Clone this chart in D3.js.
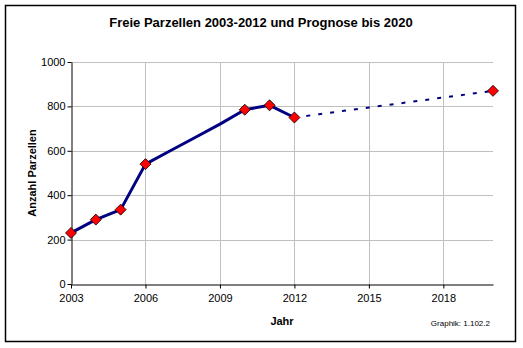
<!DOCTYPE html>
<html>
<head>
<meta charset="utf-8">
<script src="https://cdn.jsdelivr.net/npm/d3@7"></script>
<style>
  html, body { margin: 0; padding: 0; background: #fff; }
  svg { display: block; font-family: "Liberation Sans", Arial, sans-serif; }
</style>
</head>
<body>
<svg id="chart" width="523" height="348"></svg>
<script>
// Observed free plots per year
const years = [2003, 2004, 2005, 2006, 2007, 2008, 2009, 2010, 2011, 2012];
const freePlots = [230, 290, 335, 540, 600, 660, 720, 785, 805, 750];
// Years that carry a marker
const markedYears = [2003, 2004, 2005, 2006, 2010, 2011, 2012, 2020];
// Forecast 2012 to 2020
const forecastYears = [2012, 2013, 2014, 2015, 2016, 2017, 2018, 2019, 2020];
const forecastPlots = [750, 765, 780, 795, 810, 825, 840, 855, 870];
const xTicks = [2003, 2006, 2009, 2012, 2015, 2018];
const yTicks = [0, 200, 400, 600, 800, 1000];

(function () {
  const svg = d3.select("#chart");
  const pLeft = 71, pRight = 493, pTop = 62, pBottom = 284;

  const x = d3.scaleLinear().domain([2003, 2020]).range([pLeft, pRight]);
  const y = d3.scaleLinear().domain([0, 1000]).range([pBottom, pTop]);

  // Outer frame
  svg.append("rect").attr("x", 5.5).attr("y", 5.5).attr("width", 510).attr("height", 336)
    .attr("fill", "#fff").attr("stroke", "#000").attr("stroke-width", 1.5);

  // Title
  svg.append("text").attr("x", 261).attr("y", 27).attr("text-anchor", "middle")
    .attr("font-size", 13).attr("font-weight", "bold").text("Freie Parzellen 2003-2012 und Prognose bis 2020");

  // Grid
  const g = svg.append("g");
  g.selectAll(".hgrid").data(yTicks.filter(d => d > 0)).join("line")
    .attr("x1", pLeft).attr("x2", pRight)
    .attr("y1", d => Math.round(y(d)) + 0.5).attr("y2", d => Math.round(y(d)) + 0.5)
    .attr("stroke", "#c0c0c0").attr("stroke-width", 1);
  g.selectAll(".vgrid").data(xTicks.filter(d => d > 2003)).join("line")
    .attr("y1", pTop).attr("y2", pBottom)
    .attr("x1", d => Math.round(x(d)) + 0.5).attr("x2", d => Math.round(x(d)) + 0.5)
    .attr("stroke", "#c0c0c0").attr("stroke-width", 1);

  // Axes
  const xAxis = d3.axisBottom(x).tickValues(xTicks).tickFormat(d3.format("d")).tickSize(4).tickSizeOuter(0);
  const yAxis = d3.axisLeft(y).tickValues(yTicks).tickFormat(d3.format("d")).tickSize(4).tickSizeOuter(0);
  const gx = svg.append("g").attr("transform", `translate(0,${pBottom + 0.5})`).call(xAxis);
  const gy = svg.append("g").attr("transform", `translate(${pLeft + 0.5},0)`).call(yAxis);
  [gx, gy].forEach(a => {
    a.select(".domain").attr("stroke", "#000");
    a.selectAll(".tick line").attr("stroke", "#000");
    a.selectAll(".tick text").attr("font-size", 11).attr("fill", "#000")
      .attr("font-family", "'Liberation Sans', Arial, sans-serif");
  });
  gx.selectAll(".tick text").attr("dy", "1.05em").attr("y", 6);
  gy.selectAll(".tick text").attr("x", -6);

  // Axis titles
  svg.append("text").attr("x", 282).attr("y", 325).attr("text-anchor", "middle")
    .attr("font-size", 11).attr("font-weight", "bold").text("Jahr");
  svg.append("text").attr("transform", "translate(36,173) rotate(-90)").attr("text-anchor", "middle")
    .attr("font-size", 11).attr("font-weight", "bold").text("Anzahl Parzellen");
  svg.append("text").attr("x", 490).attr("y", 326).attr("text-anchor", "end")
    .attr("font-size", 8).text("Graphik: 1.102.2");

  // Lines
  const line = d3.line().x(d => x(d[0])).y(d => y(d[1]));
  svg.append("path").datum(forecastYears.map((d, i) => [d, forecastPlots[i]]))
    .attr("d", line).attr("fill", "none").attr("stroke", "#000080")
    .attr("stroke-width", 2).attr("stroke-dasharray", "4,8");
  svg.append("path").datum(years.map((d, i) => [d, freePlots[i]]))
    .attr("d", line).attr("fill", "none").attr("stroke", "#000080")
    .attr("stroke-width", 3).attr("stroke-linejoin", "round");

  // Markers
  const valueOf = yr => {
    const i = years.indexOf(yr);
    return i >= 0 ? freePlots[i] : forecastPlots[forecastYears.indexOf(yr)];
  };
  const s = 5.5;
  svg.selectAll(".marker").data(markedYears).join("path")
    .attr("d", d => {
      const cx = x(d), cy = y(valueOf(d));
      return `M${cx},${cy - s}L${cx + s},${cy}L${cx},${cy + s}L${cx - s},${cy}Z`;
    })
    .attr("fill", "#ff0000").attr("stroke", "#000").attr("stroke-width", 0.8);
})();
</script>
</body>
</html>
